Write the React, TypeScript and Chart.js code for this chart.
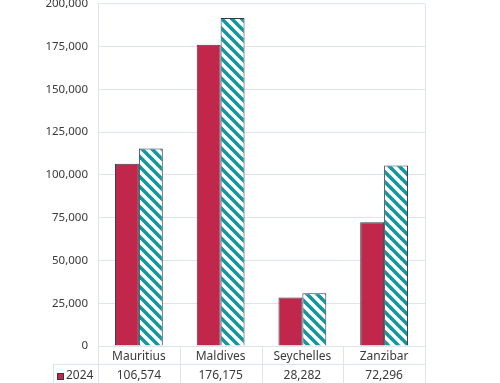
import React, { useEffect, useRef } from 'react';
import { Chart, registerables } from 'chart.js';

Chart.register(...registerables);

const categories = ['Mauritius', 'Maldives', 'Seychelles', 'Zanzibar'];
const series2024 = [106574, 176175, 28282, 72296];
const series2025 = [115400, 191800, 30900, 105500];
const seriesLabels = ['2024', '2025'];
const yMin = 0;
const yMax = 200000;
const yStep = 25000;

const RED = '#C0274A';
const TEAL = '#17969A';
const EDGE = '#2E3A48';
const GRID = '#DCE4EE';
const TEXT = '#3A3A3A';
const FONT = '"Noto Sans", sans-serif';
const OFFSET = 13;
const W = 500;
const H = 383;

function makeHatch(): CanvasPattern | string {
  const c = document.createElement('canvas');
  const s = 10;
  c.width = s;
  c.height = s;
  const g = c.getContext('2d');
  if (!g) return TEAL;
  g.fillStyle = '#ffffff';
  g.fillRect(0, 0, s, s);
  g.strokeStyle = TEAL;
  g.lineWidth = 3.6;
  g.lineCap = 'square';
  for (const dx of [-s, 0, s]) {
    g.beginPath();
    g.moveTo(dx, 0);
    g.lineTo(dx + s, s);
    g.stroke();
  }
  const p = g.createPattern(c, 'repeat');
  return p || TEAL;
}

const tablePlugin = {
  id: 'dataTable',
  afterDraw(chart: any) {
    const ctx = chart.ctx as CanvasRenderingContext2D;
    const area = chart.chartArea;
    const xs = chart.scales.x;
    const n = categories.length;
    const catW = (area.right - area.left) / n;
    const rowTop = area.bottom + 18;
    const rowH = 20;
    const tableLeft = 53;
    const bottom = chart.height;
    ctx.save();
    ctx.strokeStyle = GRID;
    ctx.lineWidth = 1;
    for (let i = 0; i <= n; i++) {
      const x = Math.round(area.left + i * catW) + 0.5;
      ctx.beginPath();
      ctx.moveTo(x, i === 0 || i === n ? area.top : area.bottom);
      ctx.lineTo(x, bottom);
      ctx.stroke();
    }
    ctx.beginPath();
    ctx.moveTo(tableLeft + 0.5, rowTop);
    ctx.lineTo(tableLeft + 0.5, bottom);
    ctx.stroke();
    for (let r = 0; r < 2; r++) {
      const y = Math.round(rowTop + r * rowH) + 0.5;
      ctx.beginPath();
      ctx.moveTo(tableLeft, y);
      ctx.lineTo(area.right, y);
      ctx.stroke();
    }
    const rows = [series2024, series2025];
    const fills = [RED, chart.data.datasets[1].backgroundColor];
    ctx.font = '12px ' + FONT;
    ctx.textBaseline = 'middle';
    for (let r = 0; r < rows.length; r++) {
      const cy = rowTop + r * rowH + 12;
      ctx.fillStyle = fills[r];
      ctx.fillRect(57, cy - 3, 7, 7);
      ctx.strokeStyle = EDGE;
      ctx.strokeRect(57.5, cy - 2.5, 6, 6);
      ctx.fillStyle = TEXT;
      ctx.textAlign = 'left';
      ctx.fillText(seriesLabels[r], 66, cy);
      ctx.textAlign = 'center';
      rows[r].forEach((v, i) => {
        const x = xs.getPixelForValue(i);
        ctx.fillText(v.toLocaleString('en-US'), x, cy);
      });
    }
    ctx.restore();
  },
};

export default function App() {
  const ref = useRef<HTMLCanvasElement | null>(null);
  useEffect(() => {
    document.body.style.margin = '0';
    if (!ref.current) return;
    const hatch = makeHatch();
    const chart = new Chart(ref.current, {
      type: 'bar',
      data: {
        labels: categories,
        datasets: [
          {
            label: seriesLabels[0],
            data: series2024,
            backgroundColor: RED,
            borderColor: EDGE,
            borderWidth: 1,
            categoryPercentage: 0.585,
            barPercentage: 1,
          },
          {
            label: seriesLabels[1],
            data: series2025,
            backgroundColor: hatch as any,
            borderColor: EDGE,
            borderWidth: 1,
            categoryPercentage: 0.585,
            barPercentage: 1,
          },
        ],
      },
      options: {
        animation: false,
        responsive: false,
        maintainAspectRatio: false,
        layout: { padding: { left: 0, right: 75, top: 0, bottom: 0 } },
        plugins: { legend: { display: false }, tooltip: { enabled: false } },
        scales: {
          x: {
            grid: { display: false, drawTicks: false },
            border: { display: false },
            ticks: { color: TEXT, font: { family: FONT, size: 12 }, padding: 3 },
            afterFit: (s: any) => {
              s.height = 37;
            },
          },
          y: {
            min: yMin,
            max: yMax,
            ticks: {
              stepSize: yStep,
              color: TEXT,
              font: { family: FONT, size: 11.5 },
              padding: 10,
              callback: (v: any) => Number(v).toLocaleString('en-US'),
            },
            grid: { color: GRID, drawTicks: false },
            border: { display: true, color: GRID },
            afterFit: (s: any) => {
              s.width = 98;
            },
          },
        },
      },
      plugins: [tablePlugin],
    });
    return () => chart.destroy();
  }, []);
  return (
    <div style={{ position: 'relative', width: W, height: H, overflow: 'hidden', background: '#fff' }}>
      <canvas
        ref={ref}
        width={W}
        height={H + OFFSET}
        style={{ position: 'absolute', left: 0, top: -OFFSET, width: W, height: H + OFFSET }}
      />
    </div>
  );
}
